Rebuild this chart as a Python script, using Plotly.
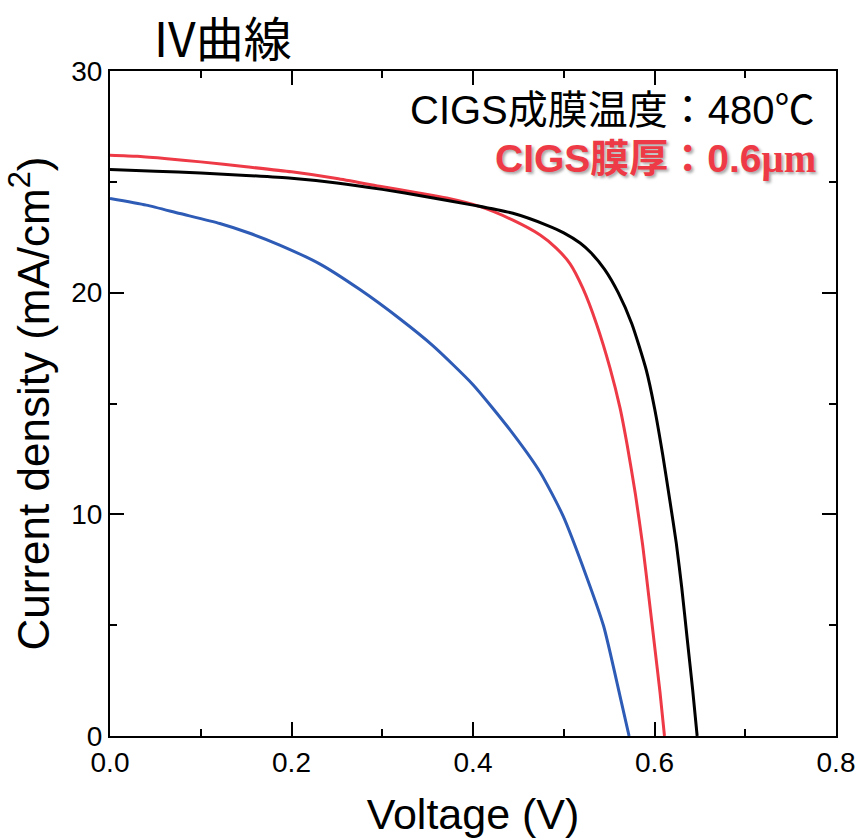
import plotly.graph_objects as go

# Current density vs. voltage for three CIGS cells
v_black = [0.000, 0.050, 0.100, 0.150, 0.200, 0.250, 0.300, 0.350, 0.400, 0.444,
           0.481, 0.500, 0.518, 0.530, 0.545, 0.560, 0.575, 0.591, 0.600, 0.609,
           0.617, 0.624, 0.630, 0.636, 0.642, 0.647]
j_black = [25.56, 25.48, 25.40, 25.29, 25.16, 24.95, 24.66, 24.32, 23.95, 23.58,
           23.05, 22.70, 22.24, 21.80, 21.05, 20.00, 18.60, 16.50, 14.80, 12.70,
           10.60, 8.70, 6.70, 4.40, 2.10, 0.00]

v_red = [0.000, 0.030, 0.060, 0.100, 0.150, 0.200, 0.250, 0.297, 0.340, 0.371,
         0.408, 0.444, 0.474, 0.492, 0.507, 0.521, 0.536, 0.551, 0.562, 0.570,
         0.579, 0.587, 0.594, 0.600, 0.606, 0.611]
j_red = [26.20, 26.15, 26.05, 25.90, 25.68, 25.45, 25.15, 24.80, 24.50, 24.27,
         23.88, 23.27, 22.60, 22.00, 21.30, 20.20, 18.60, 16.60, 14.80, 13.10,
         10.90, 8.60, 6.20, 4.10, 2.00, 0.00]

v_blue = [0.000, 0.040, 0.077, 0.121, 0.154, 0.187, 0.231, 0.275, 0.320, 0.356,
          0.400, 0.441, 0.474, 0.499, 0.525, 0.544, 0.562, 0.572]
j_blue = [24.25, 23.95, 23.57, 23.12, 22.68, 22.15, 21.30, 20.15, 18.80, 17.60,
          15.85, 13.80, 11.90, 9.95, 7.20, 4.95, 1.80, 0.00]

x_ticks = [0.0, 0.2, 0.4, 0.6, 0.8]
y_ticks = [0, 10, 20, 30]

title_text = "IV曲線"
note_temp = "CIGS成膜温度：480℃"
note_thick = "CIGS膜厚：0.6"
note_unit = "μm"

BLACK = "#000000"
RED = "#EE3A46"
BLUE = "#2D5BB5"

SANS = "Liberation Sans, Arial, Noto Sans CJK JP, sans-serif"
CJK = "Liberation Sans, Noto Sans CJK JP, sans-serif"

fig = go.Figure()
for vx, jy, col in [(v_blue, j_blue, BLUE), (v_red, j_red, RED), (v_black, j_black, BLACK)]:
    fig.add_trace(go.Scatter(
        x=vx, y=jy, mode="lines",
        line=dict(color=col, width=3, shape="spline", smoothing=0.6),
        showlegend=False, hoverinfo="skip",
    ))

axis_common = dict(
    showline=True, linecolor="black", linewidth=2, mirror="ticks",
    ticks="inside", ticklen=14, tickwidth=2, tickcolor="black",
    showgrid=False, zeroline=False, automargin=False,
    tickfont=dict(family=SANS, size=28, color="black"),
)

fig.update_xaxes(
    range=[0, 0.8], tickvals=x_ticks, ticktext=[f"{t:.1f}" for t in x_ticks],
    minor=dict(dtick=0.1, tick0=0, ticks="inside", ticklen=7, tickwidth=2, tickcolor="black"),
    title=dict(text="Voltage (V)", font=dict(family=SANS, size=43, color="black"), standoff=24),
    **axis_common,
)
fig.update_yaxes(
    range=[0, 30], tickvals=y_ticks, ticktext=[str(t) for t in y_ticks],
    minor=dict(dtick=5, tick0=0, ticks="inside", ticklen=7, tickwidth=2, tickcolor="black"),
    title=dict(text="Current density (mA/cm<sup>2</sup>)",
               font=dict(family=SANS, size=44, color="black"), standoff=8),
    **axis_common,
)

fig.add_annotation(
    text=title_text, xref="paper", yref="paper", x=0.156, y=1.053,
    xanchor="center", yanchor="middle", showarrow=False,
    font=dict(family="Noto Sans CJK JP, sans-serif", size=48, color="black"),
)
fig.add_annotation(
    text=note_temp, xref="paper", yref="paper", x=0.9735, y=0.942,
    xanchor="right", yanchor="middle", showarrow=False,
    font=dict(family=CJK, size=40, color="black"),
)
fig.add_annotation(
    text=f"{note_thick}<span style=\"font-family:'Liberation Serif', serif\">{note_unit}</span>",
    xref="paper", yref="paper", x=0.9755, y=0.868,
    xanchor="right", yanchor="middle", showarrow=False,
    font=dict(family=CJK, size=39, color=RED, weight="bold",
              shadow="2px 2px 3px rgba(0,0,0,0.35)"),
)

fig.update_layout(
    width=857, height=838,
    margin=dict(l=110, r=21, t=71, b=102, autoexpand=False),
    paper_bgcolor="white", plot_bgcolor="white",
)

fig.write_html("out.html")
